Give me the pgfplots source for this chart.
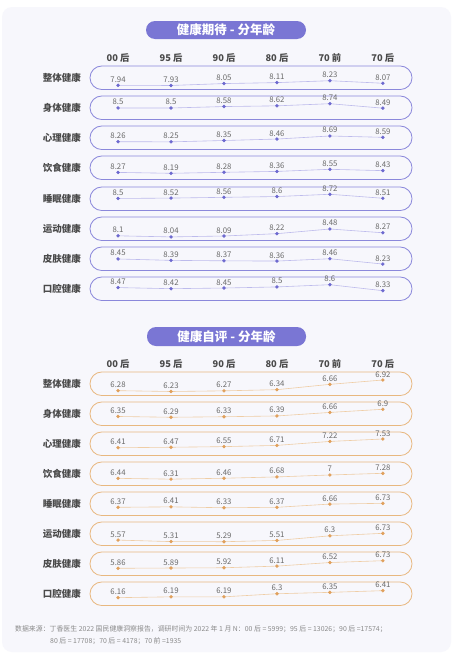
\documentclass[border=0pt]{standalone}
\usepackage{fontspec}
\setmainfont{Noto Sans CJK SC}
\usepackage{pgfplots}
\pgfplotsset{compat=1.18}
\definecolor{panelbg}{HTML}{F7F7FC}
\definecolor{titlecol}{HTML}{7A76D4}
\definecolor{upborder}{HTML}{8B88DB}
\definecolor{upline}{HTML}{BDBBEC}
\definecolor{upmark}{HTML}{6D69CF}
\definecolor{loborder}{HTML}{E8B880}
\definecolor{loline}{HTML}{EFCDA5}
\definecolor{lomark}{HTML}{E0A05C}
\definecolor{valgrey}{HTML}{6A6A6A}
\definecolor{labgrey}{HTML}{4A4A4A}
\definecolor{footgrey}{HTML}{8A8A8A}
\pgfplotsset{
  rowax/.style={width=322pt, height=23.5pt, scale only axis, hide axis,
    xmin=-0.53, xmax=5.55, clip=false, anchor=north west,
    point meta=explicit symbolic, nodes near coords,
    every node near coord/.append style={font=\fontsize{7.8}{8}\selectfont, text=valgrey, anchor=base, yshift=3pt, inner sep=0pt}}
}
\newcommand\pill[5]{%
\begin{axis}[rowax, at={(90pt,-#1pt)}, ymin=#2, ymax=#3]
\draw[#4border, line width=0.8pt, rounded corners=11.7pt] (rel axis cs:0,0) rectangle (rel axis cs:1,1);
\addplot[#4line, line width=0.6pt, mark=*, mark size=1.4pt, mark options={fill=#4mark, draw=#4mark}] coordinates {#5};
\end{axis}}
\newcommand\rowlab[2]{\node[anchor=east, font=\bfseries\fontsize{9.5}{10}\selectfont, text=labgrey, inner sep=0pt] at (81pt,{-#1pt-11.75pt}) {#2};}
\newcommand\headers[1]{%
\foreach \i/\t in {0/00 后,1/95 后,2/90 后,3/80 后,4/70 前,5/70 后}{
\node[font=\bfseries\fontsize{9.3}{10}\selectfont, text=labgrey, inner sep=0pt] at ({90pt+(\i+0.53)*52.96pt},-#1pt) {\t};}}
\begin{document}
\begin{tikzpicture}[x=1pt,y=1pt]
\fill[white] (0,0) rectangle (455,-656);
\useasboundingbox (0,0) rectangle (455,-656);
\fill[panelbg, rounded corners=10pt] (2,-7) rectangle (451,-652);
% titles
\fill[titlecol, rounded corners=9pt] (146,-21) rectangle (306,-39);
\node[text=white, font=\bfseries\fontsize{12.5}{13}\selectfont, inner sep=0pt] at (226,-30) {健康期待 - 分年龄};
\fill[titlecol, rounded corners=9pt] (147,-327) rectangle (306,-346);
\node[text=white, font=\bfseries\fontsize{12.5}{13}\selectfont, inner sep=0pt] at (226.5,-336.5) {健康自评 - 分年龄};
\headers{58}
\headers{364}
% row labels
\foreach \tp/\lab in {66/整体健康,96/身体健康,126/心理健康,156/饮食健康,187/睡眠健康,217/运动健康,247/皮肤健康,277/口腔健康,372/整体健康,402/身体健康,432/心理健康,462/饮食健康,492/睡眠健康,522/运动健康,552/皮肤健康,582/口腔健康}{\rowlab{\tp}{\lab}}
% upper panel
\pill{66}{7.677}{9.155}{up}{(0,7.94)[7.94] (1,7.93)[7.93] (2,8.05)[8.05] (3,8.11)[8.11] (4,8.23)[8.23] (5,8.07)[8.07]}
\pill{96}{7.857}{9.17}{up}{(0,8.5)[8.5] (1,8.5)[8.5] (2,8.58)[8.58] (3,8.62)[8.62] (4,8.74)[8.74] (5,8.49)[8.49]}
\pill{126}{7.675}{9.44}{up}{(0,8.26)[8.26] (1,8.25)[8.25] (2,8.35)[8.35] (3,8.46)[8.46] (4,8.69)[8.69] (5,8.59)[8.59]}
\pill{156}{7.63}{9.75}{up}{(0,8.27)[8.27] (1,8.19)[8.19] (2,8.28)[8.28] (3,8.36)[8.36] (4,8.55)[8.55] (5,8.43)[8.43]}
\pill{187}{7.87}{9.10}{up}{(0,8.5)[8.5] (1,8.52)[8.52] (2,8.56)[8.56] (3,8.6)[8.6] (4,8.72)[8.72] (5,8.51)[8.51]}
\pill{217}{7.84}{9.147}{up}{(0,8.1)[8.1] (1,8.04)[8.04] (2,8.09)[8.09] (3,8.22)[8.22] (4,8.48)[8.48] (5,8.27)[8.27]}
\pill{247}{7.95}{8.97}{up}{(0,8.45)[8.45] (1,8.39)[8.39] (2,8.37)[8.37] (3,8.36)[8.36] (4,8.46)[8.46] (5,8.23)[8.23]}
\pill{277}{7.888}{8.947}{up}{(0,8.47)[8.47] (1,8.42)[8.42] (2,8.45)[8.45] (3,8.5)[8.5] (4,8.6)[8.6] (5,8.33)[8.33]}
% lower panel
\pill{372}{5.99}{7.40}{lo}{(0,6.28)[6.28] (1,6.23)[6.23] (2,6.27)[6.27] (3,6.34)[6.34] (4,6.66)[6.66] (5,6.92)[6.92]}
\pill{402}{5.66}{7.457}{lo}{(0,6.35)[6.35] (1,6.29)[6.29] (2,6.33)[6.33] (3,6.39)[6.39] (4,6.66)[6.66] (5,6.9)[6.9]}
\pill{432}{5.41}{8.43}{lo}{(0,6.41)[6.41] (1,6.47)[6.47] (2,6.55)[6.55] (3,6.71)[6.71] (4,7.22)[7.22] (5,7.53)[7.53]}
\pill{462}{5.25}{9.16}{lo}{(0,6.44)[6.44] (1,6.31)[6.31] (2,6.46)[6.46] (3,6.68)[6.68] (4,7)[7] (5,7.28)[7.28]}
\pill{492}{5.63}{7.75}{lo}{(0,6.37)[6.37] (1,6.41)[6.41] (2,6.33)[6.33] (3,6.37)[6.37] (4,6.66)[6.66] (5,6.73)[6.73]}
\pill{522}{4.64}{8.67}{lo}{(0,5.57)[5.57] (1,5.31)[5.31] (2,5.29)[5.29] (3,5.51)[5.51] (4,6.3)[6.3] (5,6.73)[6.73]}
\pill{552}{5.03}{7.73}{lo}{(0,5.86)[5.86] (1,5.89)[5.89] (2,5.92)[5.92] (3,6.11)[6.11] (4,6.52)[6.52] (5,6.73)[6.73]}
\pill{582}{5.88}{6.72}{lo}{(0,6.16)[6.16] (1,6.19)[6.19] (2,6.19)[6.19] (3,6.3)[6.3] (4,6.35)[6.35] (5,6.41)[6.41]}
% footer
\node[anchor=west, font=\fontsize{6.9}{8}\selectfont, text=footgrey, inner sep=0pt] at (15,-629) {数据来源：丁香医生 2022 国民健康洞察报告，调研时间为 2022 年 1 月 N：00 后 = 5999；95 后 = 13026；90 后 =17574；};
\node[anchor=west, font=\fontsize{6.9}{8}\selectfont, text=footgrey, inner sep=0pt] at (50,-641) {80 后 = 17708；70 后 = 4178；70 前 =1935};
\end{tikzpicture}
\end{document}
